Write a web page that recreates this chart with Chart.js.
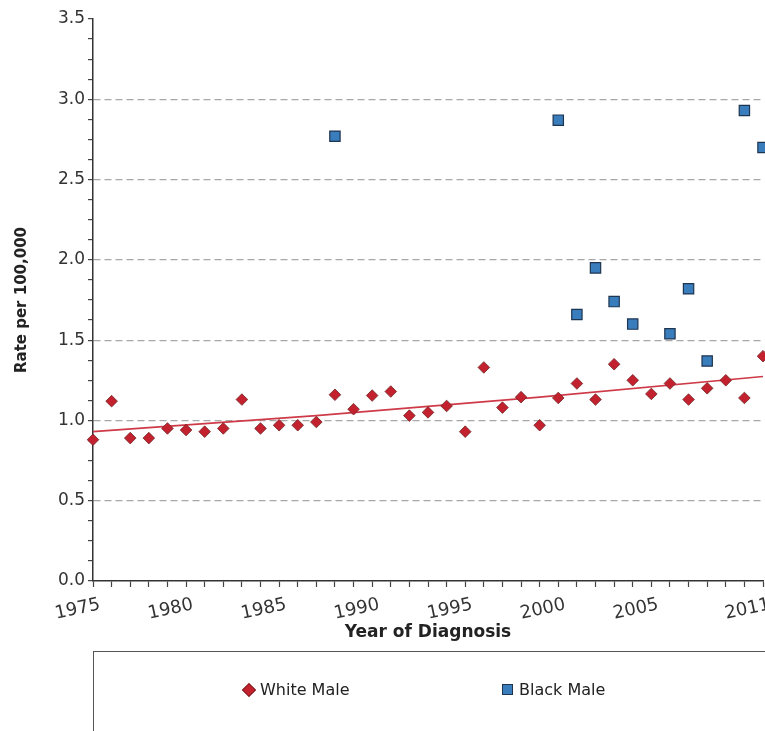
<!DOCTYPE html>
<html>
<head>
<meta charset="utf-8">
<script src="https://cdn.jsdelivr.net/npm/chart.js@4/dist/chart.umd.min.js"></script>
<style>
  body { margin: 0; background: #fff; overflow: hidden; }
  #wrap { position: relative; width: 765px; height: 652px; }
  #legend {
    position: absolute; left: 93px; top: 651px; width: 700px; height: 120px;
    border: 1.5px solid #555; box-sizing: border-box;
    font-family: "DejaVu Sans", sans-serif; font-size: 16px; color: #222;
  }
  .item { position: absolute; top: 28px; white-space: nowrap; }
  .diamond {
    position: absolute; width: 8px; height: 8px; background: #c4212f;
    border: 0.5px solid #7a2222; transform: rotate(45deg);
  }
  .square {
    position: absolute; width: 9px; height: 9px; background: #3a7dbd;
    border: 1px solid #1d3550;
  }
</style>
</head>
<body>
<div id="wrap"><canvas id="chart"></canvas></div>
<div id="legend">
  <span class="diamond" style="left:150px; top:33px;"></span>
  <span class="item" style="left:166px;">White Male</span>
  <span class="square" style="left:408px; top:32px;"></span>
  <span class="item" style="left:425px;">Black Male</span>
</div>
<script>
// values
const years = [1975, 1976, 1977, 1978, 1979, 1980, 1981, 1982, 1983, 1984,
  1985, 1986, 1987, 1988, 1989, 1990, 1991, 1992, 1993, 1994,
  1995, 1996, 1997, 1998, 1999, 2000, 2001, 2002, 2003, 2004,
  2005, 2006, 2007, 2008, 2009, 2010, 2011];

const whiteMale = [0.88, 1.12, 0.89, 0.89, 0.95, 0.94, 0.93, 0.95, 1.13, 0.95,
  0.97, 0.97, 0.99, 1.16, 1.07, 1.155, 1.18, 1.03, 1.05, 1.09,
  0.93, 1.33, 1.08, 1.145, 0.97, 1.14, 1.23, 1.13, 1.35, 1.25,
  1.165, 1.23, 1.13, 1.20, 1.25, 1.14, 1.40];

const blackMale = [null, null, null, null, null, null, null, null, null, null,
  null, null, null, 2.77, null, null, null, null, null, null,
  null, null, null, null, null, 2.87, 1.66, 1.95, 1.74, 1.60,
  null, 1.54, 1.82, 1.37, null, 2.93, 2.70];

// fitted trend for white males, read at a few years
const trendYears = [1975, 1987, 1999, 2011];
const trendValues = [0.93, 1.03, 1.145, 1.274];

const yTickLabels = ["0.0", "0.5", "1.0", "1.5", "2.0", "2.5", "3.0", "3.5"];
const xTickLabels = [1975, 1980, 1985, 1990, 1995, 2000, 2005, 2011];

const toPoints = (xs, ys) => xs.map((x, i) => ({ x: x, y: ys[i] })).filter(p => p.y !== null);

new Chart(document.getElementById("chart"), {
  type: "scatter",
  data: {
    datasets: [
      {
        label: "White Male",
        data: toPoints(years, whiteMale),
        pointStyle: "rectRot",
        pointRadius: 5.8,
        pointHoverRadius: 5.8,
        backgroundColor: "#c4212f",
        borderColor: "#6e2424",
        borderWidth: 0.8,
        clip: false,
        order: 1
      },
      {
        label: "Black Male",
        data: toPoints(years, blackMale),
        pointStyle: "rect",
        pointRadius: 7.3,
        pointHoverRadius: 7.3,
        backgroundColor: "#3a7dbd",
        borderColor: "#1d3550",
        borderWidth: 1.2,
        clip: false,
        order: 1
      },
      {
        type: "line",
        label: "White Male trend",
        data: toPoints(trendYears, trendValues),
        showLine: true,
        pointRadius: 0,
        borderColor: "#cf3a48",
        borderWidth: 1.6,
        fill: false,
        clip: false,
        order: 2
      }
    ]
  },
  options: {
    responsive: true,
    maintainAspectRatio: false,
    animation: false,
    layout: { autoPadding: false, padding: { top: 19, right: 2, left: 0, bottom: 0 } },
    plugins: { legend: { display: false }, tooltip: { enabled: false } },
    scales: {
      x: {
        type: "linear",
        min: 1975,
        max: 2011,
        afterBuildTicks: (scale) => {
          scale.ticks = years.map(v => ({ value: v }));
        },
        afterFit: (scale) => {
          scale.height = 71;
          scale.paddingLeft = 0;
          scale.paddingRight = 0;
        },
        ticks: {
          autoSkip: false,
          minRotation: 12,
          maxRotation: 12,
          padding: 7,
          labelOffset: 7,
          font: { family: "DejaVu Sans", size: 18 },
          color: "#333",
          callback: (v) => xTickLabels.includes(v) ? String(v) : ""
        },
        grid: { drawOnChartArea: false, drawTicks: true, tickLength: 6, tickColor: "#444", tickWidth: 1.2 },
        border: { color: "#333", width: 1.5 },
        title: {
          display: true,
          text: "Year of Diagnosis",
          font: { family: "DejaVu Sans", size: 17, weight: "bold" },
          color: "#222",
          padding: { top: 0, bottom: 9 }
        }
      },
      y: {
        min: 0,
        max: 3.5,
        afterBuildTicks: (scale) => {
          const t = [];
          for (let i = 0; i <= 28; i++) t.push({ value: i * 0.125 });
          scale.ticks = t;
        },
        afterFit: (scale) => { scale.width = 93; },
        ticks: {
          autoSkip: false,
          padding: 3,
          font: { family: "DejaVu Sans", size: 17 },
          color: "#333",
          callback: (v) => {
            const k = v * 2;
            return Number.isInteger(k) ? yTickLabels[k] : "";
          }
        },
        grid: {
          color: (ctx) => {
            const v = ctx.tick ? ctx.tick.value : 0;
            return (Number.isInteger(v * 2) && v > 0 && v < 3.5) ? "#a8a8a8" : "rgba(0,0,0,0)";
          },
          lineWidth: 1.2,
          tickLength: 5,
          tickColor: "#444",
          tickWidth: 1.2
        },
        border: { color: "#333", width: 1.5, dash: [7, 4] },
        title: {
          display: true,
          text: "Rate per 100,000",
          font: { family: "DejaVu Sans", size: 15, weight: "bold" },
          color: "#222",
          padding: { top: 13, bottom: 0 }
        }
      }
    }
  }
});
</script>
</body>
</html>
